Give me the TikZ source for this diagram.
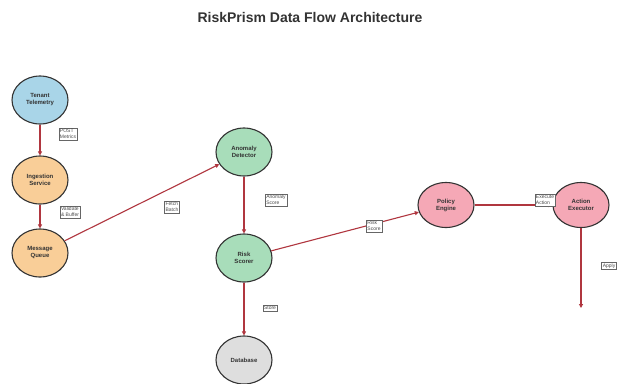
\documentclass[tikz,border=0pt]{standalone}
\usepackage{fontspec}
\setmainfont{Liberation Sans}
\usetikzlibrary{shapes.geometric,arrows.meta}
\definecolor{cblue}{HTML}{A9D5E8}
\definecolor{corange}{HTML}{F9CE98}
\definecolor{cgreen}{HTML}{A8DDBA}
\definecolor{cpink}{HTML}{F5A8B6}
\definecolor{cgray}{HTML}{DEDEDE}
\definecolor{carrow}{HTML}{B0363F}
\definecolor{cborder}{HTML}{333333}
\begin{document}
\begin{tikzpicture}[x=1pt,y=-1pt,
  proc/.style={ellipse,draw=cborder,line width=1.1pt,minimum width=56pt,minimum height=48pt,inner sep=0pt,align=center,font=\fontsize{6}{7}\selectfont\bfseries,text=black!80},
  flow/.style={draw=carrow,line width=1.1pt,-{Triangle[length=4pt,width=4pt]}},
  lbl/.style={draw=black!60,fill=white,line width=0.4pt,inner sep=1.2pt,align=left,font=\fontsize{5}{5.6}\selectfont,text=black!70}]
\useasboundingbox (0,0) rectangle (621,383);
\fill[white] (0,0) rectangle (621,383);
\node[font=\fontsize{14}{16}\selectfont\bfseries,text=black!80] (title) at (310,17) {RiskPrism Data Flow Architecture};
\node[proc,fill=cblue] (tt) at (40,100) {Tenant\\Telemetry};
\node[proc,fill=corange] (is) at (40,180) {Ingestion\\Service};
\node[proc,fill=corange] (mq) at (40,253) {Message\\Queue};
\node[proc,fill=cgreen] (ad) at (244,152) {Anomaly\\Detector};
\node[proc,fill=cgreen] (rs) at (244,258) {Risk\\Scorer};
\node[proc,fill=cgray] (db) at (244,360) {Database};
\node[proc,fill=cpink,minimum height=45pt] (pe) at (446,205) {Policy\\Engine};
\node[proc,fill=cpink,minimum height=45pt] (ae) at (581,205) {Action\\Executor};
\coordinate (out) at (581,308);
\draw[flow] (tt) -- (is);
\draw[flow] (is) -- (mq);
\draw[flow] (mq) -- (ad);
\draw[flow] (ad) -- (rs);
\draw[flow] (rs) -- (db);
\draw[flow] (rs) -- (pe);
\draw[flow] (pe) -- (ae);
\draw[flow] (ae) -- (out);
\node[lbl] (l1) at (68,134) {POST\\Metrics};
\node[lbl] (l2) at (70,212) {Validate\\\& Buffer};
\node[lbl] (l3) at (172,207) {Fetch\\Batch};
\node[lbl] (l4) at (276,200) {Anomaly\\Score};
\node[lbl] (l5) at (374,226) {Risk\\Score};
\node[lbl] (l6) at (270,308) {Store};
\node[lbl] (l7) at (545,200) {Execute\\Action};
\node[lbl] (l8) at (609,266) {Apply};
\end{tikzpicture}
\end{document}
